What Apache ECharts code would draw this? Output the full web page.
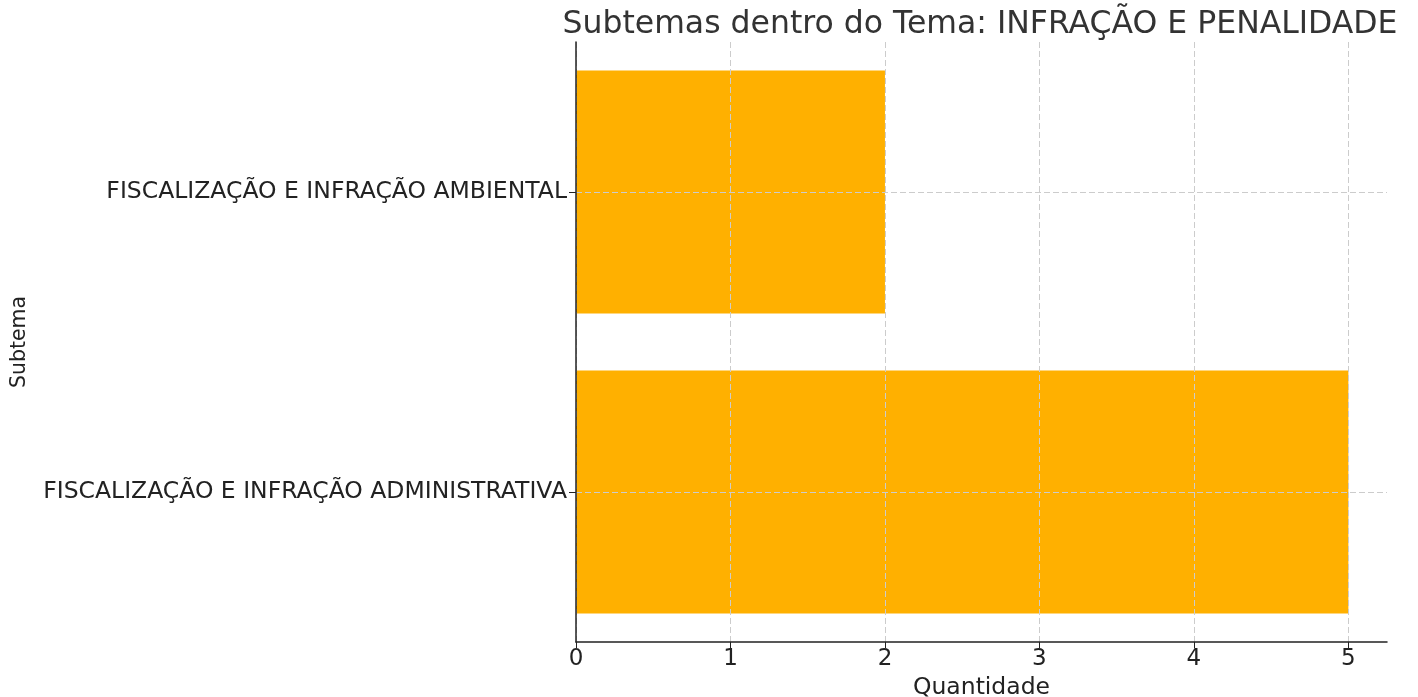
<!DOCTYPE html>
<html lang="pt">
<head>
    <meta charset="UTF-8">
    <title>Subtemas</title>
    <script src="https://cdn.jsdelivr.net/npm/echarts@6/dist/echarts.min.js"></script>
    <style>
        html, body { margin: 0; padding: 0; background: #fff; }
        .box { width: 1418px; height: 697px; }
    </style>
</head>
<body>
    <div class="box"></div>
</body>
<script>
 // categorias de baixo para cima
 let subtemas = ['FISCALIZAÇÃO E INFRAÇÃO ADMINISTRATIVA', 'FISCALIZAÇÃO E INFRAÇÃO AMBIENTAL']
 let quantidades = [5, 2]
 let xTicks = [0, 1, 2, 3, 4, 5]

 let chart = echarts.init(document.querySelector('.box'));
 let grade = { color: '#cccccc', width: 1, type: [6, 3] } // linhas de grade tracejadas
 let option = {
    textStyle: { fontFamily: 'DejaVu Sans' },
    title: {
        text: 'Subtemas dentro do Tema: INFRAÇÃO E PENALIDADE',
        left: 975,
        top: 4,
        textAlign: 'center',
        textStyle: { fontSize: 31.5, fontWeight: 'normal', color: '#333', fontFamily: 'DejaVu Sans' }
    },
    grid: { left: 576, right: 31, top: 42, bottom: 55, outerBoundsMode: 'none' },
    xAxis: {
        type: 'value',
        min: 0,
        max: 5.25,
        interval: 1,
        z: 5, // grade por cima das barras
        name: 'Quantidade',
        nameLocation: 'middle',
        nameGap: 31,
        nameTextStyle: { fontSize: 23.5, color: '#222' },
        axisLine: { show: true, lineStyle: { color: '#222', width: 1.5 } },
        axisTick: { show: true, length: 6, customValues: xTicks, lineStyle: { color: '#222' } },
        axisLabel: { fontSize: 23, color: '#222', margin: 6, customValues: xTicks },
        splitLine: { show: true, customValues: xTicks, lineStyle: grade }
    },
    yAxis: {
        type: 'category',
        data: subtemas,
        z: 5,
        name: 'Subtema',
        nameLocation: 'middle',
        nameGap: 546,
        nameTextStyle: { fontSize: 20.5, color: '#222' },
        axisLine: { show: true, lineStyle: { color: '#222', width: 1.5 } },
        axisTick: { show: true, length: 7, alignWithLabel: true, lineStyle: { color: '#222' } },
        axisLabel: { fontSize: 23.5, color: '#222', margin: 9 },
        splitLine: { show: true, alignWithLabel: true, lineStyle: grade }
    },
    series: [{
        type: 'bar',
        data: quantidades,
        barWidth: '81%',
        itemStyle: { color: '#ffb000' },
        silent: true
    }]
 }
 chart.setOption(option)
</script>
</html>
